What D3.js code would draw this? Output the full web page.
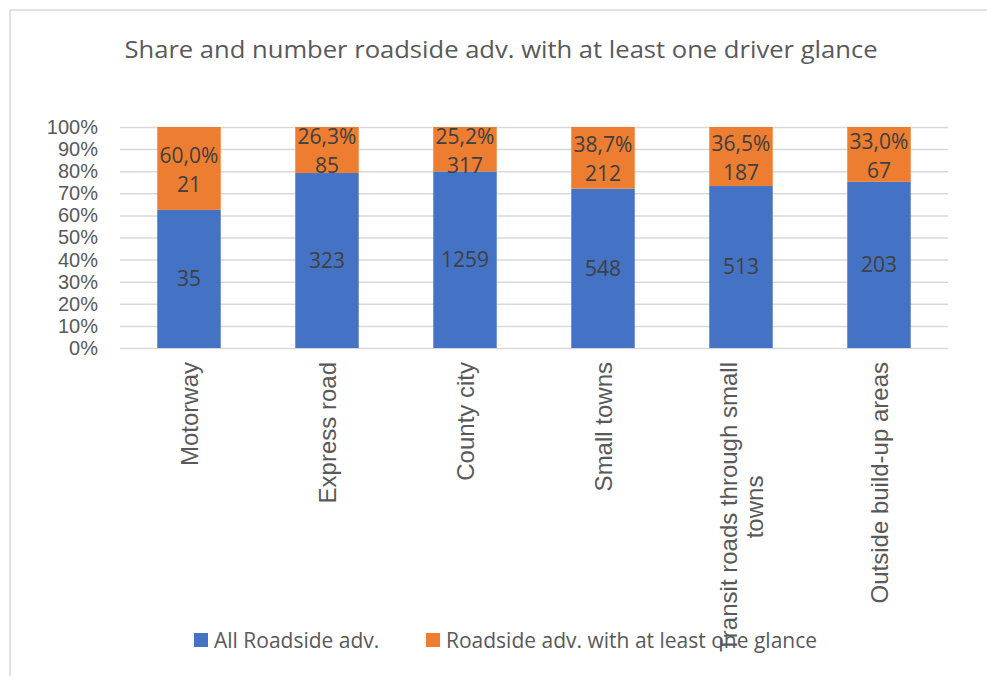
<html>
<head>
    <script src="https://cdn.jsdelivr.net/npm/d3@7"></script>
    <style>
        body { margin: 0; background: #fff; }
    </style>
</head>
<body>
    <script>
        var categories = ["Motorway", "Express road", "County city", "Small towns", "Transit roads through small towns", "Outside build-up areas"];
        var allAdv = [35, 323, 1259, 548, 513, 203];
        var glanceAdv = [21, 85, 317, 212, 187, 67];
        var glancePct = ["60,0%", "26,3%", "25,2%", "38,7%", "36,5%", "33,0%"];
        var seriesNames = ["All Roadside adv.", "Roadside adv. with at least one glance"];
        var colors = ["#4472C4", "#ED7D31"];

        var width = 987, height = 676;
        var svg = d3.select("body").append("svg").attr("width", width).attr("height", height);

        // chart frame
        svg.append("path").attr("d", "M10,700 V10 H1000")
            .attr("fill", "none").attr("stroke", "#d9d9d9").attr("stroke-width", 1.5);

        // title
        svg.append("text").text("Share and number roadside adv. with at least one driver glance")
            .attr("x", 501).attr("y", 58)
            .attr("text-anchor", "middle")
            .attr("font-family", "Open Sans").attr("font-size", "23px")
            .attr("fill", "#595959")
            .attr("textLength", 753).attr("lengthAdjust", "spacingAndGlyphs");

        var x = d3.scaleBand().domain(categories).range([120, 948]).paddingInner(0.54).paddingOuter(0.27);
        var y = d3.scaleLinear().domain([0, 1]).range([348, 127]);

        var table = categories.map(function(c, i) { return { cat: c, a: allAdv[i], g: glanceAdv[i], pct: glancePct[i] }; });
        var stack = d3.stack().keys(["a", "g"]).offset(d3.stackOffsetExpand)(table);

        // gridlines
        svg.append("g").attr("transform", "translate(120,0)")
            .call(d3.axisLeft(y).ticks(10).tickSize(-828).tickFormat(""))
            .call(function(g) {
                g.select(".domain").remove();
                g.selectAll("line").attr("stroke", "#d9d9d9").attr("stroke-width", 1.5);
            });

        // y tick labels
        svg.append("g").attr("transform", "translate(98,0)")
            .call(d3.axisLeft(y).ticks(10).tickSize(0).tickPadding(0).tickFormat(d3.format(".0%")))
            .call(function(g) {
                g.select(".domain").remove();
                g.selectAll("text").attr("font-family", "Liberation Sans").attr("font-size", "20px").attr("fill", "#595959");
            });

        // bars
        svg.selectAll("g.layer").data(stack).enter().append("g").attr("class", "layer")
            .attr("fill", function(d, i) { return colors[i]; })
            .selectAll("rect").data(function(d) { return d; }).enter().append("rect")
            .attr("x", function(d) { return x(d.data.cat); })
            .attr("width", x.bandwidth())
            .attr("y", function(d) { return y(d[1]); })
            .attr("height", function(d) { return y(d[0]) - y(d[1]); });

        // data labels
        var labelFont = "Open Sans";
        svg.selectAll("text.lblA").data(stack[0]).enter().append("text").attr("class", "lblA")
            .text(function(d) { return d.data.a; })
            .attr("x", function(d) { return x(d.data.cat) + x.bandwidth() / 2; })
            .attr("y", function(d) { return (y(d[0]) + y(d[1])) / 2; })
            .attr("dy", "0.35em").attr("text-anchor", "middle")
            .attr("font-family", labelFont).attr("font-size", "21px").attr("fill", "#404040");

        svg.selectAll("text.lblG").data(stack[1]).enter().append("text").attr("class", "lblG")
            .text(function(d) { return d.data.g; })
            .attr("x", function(d) { return x(d.data.cat) + x.bandwidth() / 2; })
            .attr("y", function(d) { return (y(d[0]) + y(d[1])) / 2 + 16; })
            .attr("dy", "0.35em").attr("text-anchor", "middle")
            .attr("font-family", labelFont).attr("font-size", "21px").attr("fill", "#404040");

        svg.selectAll("text.lblP").data(stack[1]).enter().append("text").attr("class", "lblP")
            .text(function(d) { return d.data.pct; })
            .attr("x", function(d) { return x(d.data.cat) + x.bandwidth() / 2; })
            .attr("y", function(d) { return (y(d[0]) + y(d[1])) / 2 - 13; })
            .attr("dy", "0.35em").attr("text-anchor", "middle")
            .attr("font-family", labelFont).attr("font-size", "21px").attr("fill", "#404040");

        // x labels, rotated, wrapped
        var wraps = { "Transit roads through small towns": ["Transit roads through small", "towns"] };
        var xFont = 24;
        categories.forEach(function(c) {
            var lines = wraps[c] || [c];
            var t = svg.append("text")
                .attr("font-family", "Liberation Sans").attr("font-size", xFont + "px").attr("fill", "#595959")
                .attr("text-anchor", "middle");
            lines.forEach(function(l, k) {
                t.append("tspan").text(l).attr("x", 0).attr("dy", k === 0 ? 0 : "1.1em");
            });
            var maxLen = d3.max(t.selectAll("tspan").nodes(), function(n) { return n.getComputedTextLength(); });
            var off = (lines.length - 1) * 0.55 * xFont;
            t.attr("transform", "translate(" + (x(c) + x.bandwidth() / 2 + 9 - off) + "," + (362 + maxLen / 2) + ") rotate(-90)");
        });

        // legend
        var legX = [194, 426];
        seriesNames.forEach(function(s, i) {
            svg.append("rect").attr("x", legX[i]).attr("y", 633).attr("width", 14).attr("height", 14).attr("fill", colors[i]);
            svg.append("text").text(s)
                .attr("x", legX[i] + 20).attr("y", 648)
                .attr("font-family", "Open Sans").attr("font-size", "21px").attr("fill", "#595959");
        });
    </script>
</body>
</html>
